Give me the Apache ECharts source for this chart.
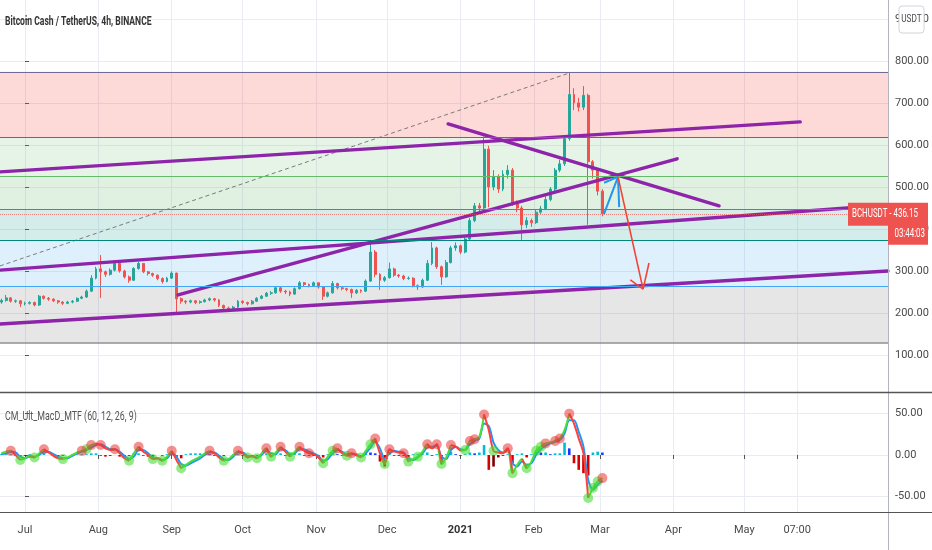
<!DOCTYPE html>
<html><head><meta charset="utf-8">
<script src="https://cdn.jsdelivr.net/npm/echarts@6/dist/echarts.min.js"></script>
<style>html,body{margin:0;padding:0;background:#fff}#c{width:932px;height:550px}</style>
</head><body><div id="c"></div>
<script>
const chartTitle = 'Bitcoin Cash / TetherUS, 4h, BINANCE';
const macdTitle = 'CM_Ult_MacD_MTF (60, 12, 26, 9)';
const symbolName = 'BCHUSDT';
const lastPrice = 436.15;
const countdown = '03:44:03';
const monthDays = [0,31,62,92,123,153,184,215,243,274,304,326.3];
const monthLabels = ['Jul','Aug','Sep','Oct','Nov','Dec','2021','Feb','Mar','Apr','May','07:00'];
const priceTicks = [100,200,300,400,500,600,700,800,900];
const macdTicks = [-50,0,50];
const firstDay = -10, dayStep = 2;
// [open, close, low, high], one candle per 2 days starting Jun 21
const candles = [
[226,230,222,234],[230,236,227,243],[236,228,225,238],[228,229,224,232],[229,222,214,231],
[222,223,218,227],[223,225,220,228],[225,219,216,227],[219,240,217,243],[240,235,232,242],
[235,233,229,238],[233,229,226,235],[229,226,222,231],[226,223,219,228],[223,226,221,229],
[226,228,223,231],[228,235,226,237],[235,238,233,241],[238,252,236,256],[252,283,250,290],
[283,305,280,310],[305,298,236,338],[298,292,286,301],[292,302,289,306],[302,318,299,322],
[318,300,296,320],[300,286,282,303],[286,278,272,289],[278,306,276,309],[306,318,303,322],
[318,298,295,319],[298,294,289,300],[294,290,286,296],[290,282,278,292],[282,275,270,285],
[275,283,273,286],[283,295,281,299],[295,234,202,296],[234,228,222,237],[228,226,221,231],
[226,229,223,232],[229,225,221,231],[225,227,222,230],[227,231,225,234],[231,234,228,237],
[234,231,227,236],[231,218,214,233],[218,212,205,220],[212,210,206,215],[210,214,207,217],
[214,228,212,231],[228,225,221,230],[225,222,218,227],[222,228,220,231],[228,235,226,238],
[235,240,233,243],[240,247,238,250],[247,248,243,252],[248,260,246,264],[260,252,248,262],
[252,250,245,255],[250,245,240,253],[245,258,243,261],[258,272,256,276],[272,268,264,274],
[268,265,261,270],[265,272,263,275],[272,262,258,273],[262,240,231,264],[240,248,237,251],
[248,270,246,276],[270,260,256,272],[260,258,254,263],[258,256,252,260],[256,248,236,258],
[248,254,245,257],[254,252,248,256],[252,276,250,280],[276,345,274,371],[345,292,285,350],
[292,278,255,295],[278,284,274,288],[284,305,282,320],[305,290,286,308],[290,288,284,293],
[288,282,278,291],[282,283,279,287],[283,265,261,285],[265,262,255,268],[262,278,260,282],
[278,318,276,326],[318,355,314,369],[355,310,305,358],[310,286,267,313],[286,320,284,326],
[320,355,318,360],[355,360,348,368],[360,345,340,363],[345,376,342,380],[376,420,372,426],
[420,455,416,462],[455,450,440,462],[450,590,448,620],[590,500,452,598],[500,525,492,540],
[525,495,486,530],[495,530,490,540],[530,540,520,552],[540,462,455,545],[462,450,440,468],
[450,410,374,455],[410,420,402,428],[420,415,405,425],[415,440,412,445],[440,448,436,455],
[448,470,445,478],[470,495,466,500],[495,540,490,545],[540,555,535,565],[555,615,550,622],
[615,720,610,772],[720,700,683,735],[700,690,680,712],[690,718,683,740],[718,560,410,722],
[560,540,520,564],[540,490,480,545],[490,436.15,430,495]
];
const macd = [
2,4,5,0,-6,-4,-1,-3,2,7,3,-1,-4,-5,-3,0,3,5,7,12,
14,12,8,6,7,2,-4,-7,2,10,4,0,-5,-4,-7,-2,5,-6,-16,-12,
-8,-5,-2,2,5,2,-3,-7,-5,0,5,2,-3,-1,-4,2,8,-2,3,10,
4,-2,4,10,5,2,1,-3,-10,-2,5,8,2,-1,2,0,-3,5,13,20,
2,-11,7,4,3,2,-8,-5,-2,4,13,8,13,-11,-3,12,10,5,6,17,
19,22,49,30,5,3,2,8,-22,-12,-5,-16,-8,5,10,14,15,17,20,30,
50,38,20,2,-52,-40,-32,-28
];
const signal = [
1,2,4,3,-2,-4,-2,-2,0,4,4,1,-2,-4,-4,-1,2,4,6,9,
12,13,10,7,7,4,-1,-5,-2,6,6,2,-3,-4,-6,-4,2,-2,-11,-13,
-10,-7,-4,0,3,3,-1,-5,-6,-2,3,3,-1,-2,-3,0,5,2,1,7,
6,1,2,7,7,4,2,-1,-7,-5,2,6,4,1,1,1,-2,2,9,16,
8,-5,2,5,4,3,-4,-6,-3,2,9,10,11,-2,-5,6,10,7,6,13,
17,20,38,35,15,6,3,6,-10,-14,-8,-12,-10,0,7,11,14,16,18,26,
42,42,28,10,-30,-42,-36,-31
];
const hist = [
1,1,1,-1,-2,-1,1,0,1,2,0,-1,-2,-1,0,1,1,1,
1,2,2,-1,-2,-1,0,-2,-2,-1,2,2,-1,-2,-2,0,-1,1,2,-3,
-4,1,2,2,2,2,1,-1,-2,-1,0,1,1,-1,-2,0,-1,1,2,-2,
1,2,-1,-2,1,2,-1,-1,-1,-1,-3,1,2,1,-1,-1,1,-1,-1,4,
3,2,-8,-14,3,-1,-1,-1,-3,1,1,1,3,-1,1,-10,1,4,1,-1,
1,3,2,3,12,-18,-14,-3,-1,1,-10,1,2,-3,1,4,3,3,1,2,
2,15,8,-10,-18,-22,-25,3,4,3
];
const redDots = [2,9,17,19,21,24,29,36,44,50,56,59,63,65,71,74,79,82,85,90,92,95,99,100,102,107,115,117,118,120,127];
const greenDots = [4,7,13,18,27,32,34,38,47,52,54,57,61,68,70,73,76,78,81,86,88,93,98,104,108,111,113,114,124,125,126];
// Fibonacci retracement levels (price)
const fibLevels = [774,619,526,447,374,264,129];
// trend lines [[day, price],[day, price]]
const trendLines = [
 [[-10.6,536],[327.6,655]],
 [[-10.6,302],[364.7,457]],
 [[-10.6,174],[364.7,300]],
 [[64.7,243],[275.6,567]],
 [[178.8,650],[293.3,455]]
];
const dottedLine = [[-10.6,312],[229.9,771]];
const blueArrow = [[[244.7,436],[250.6,524]],[[244.7,510],[250.6,524]],[[250.6,524],[251.1,452]]];
const redArrow = [[[250.6,524],[261.2,257]],[[255.8,279],[261.2,257]],[[261.2,257],[263.7,319]]];

// styles
const fibLineColors = ['#6f6a9a','#e53935','#66bb6a','#43a047','#00897b','#42a5f5','#8f8f8f'];
const fibFills = ['rgba(244,67,54,0.2)','rgba(102,187,106,0.17)','rgba(102,187,106,0.2)','rgba(0,150,136,0.17)','rgba(66,165,245,0.17)','rgba(128,128,128,0.2)'];
const XMIN = -10.57, XMAX = 364.7;
const FONT = 'Roboto, sans-serif';

const dayOf = i => firstDay + i * dayStep;
const candleData = candles.map((c, i) => [dayOf(i), c[0], c[1], c[2], c[3]]);
const macdPts = macd.map((v, i) => [dayOf(i), v]);
const macdUp = macd.map((v, i) => {
  const a = i > 0 && v >= macd[i-1];
  const b = i < macd.length - 1 && macd[i+1] >= v;
  return [dayOf(i), (a || b) ? v : '-'];
});
const macdDown = macd.map((v, i) => {
  const a = i > 0 && v < macd[i-1];
  const b = i < macd.length - 1 && macd[i+1] < v;
  return [dayOf(i), (a || b) ? v : '-'];
});

const chart = echarts.init(document.getElementById('c'), null, {renderer: 'canvas'});

const series = [];
series.push({
  type: 'line', xAxisIndex: 0, yAxisIndex: 0, data: [], silent: true,
  markArea: { silent: true, data: fibFills.map((col, i) => [
    {coord: [XMIN, fibLevels[i]], itemStyle: {color: col}},
    {coord: [XMAX, fibLevels[i+1]]}
  ])},
  markLine: { silent: true, symbol: 'none', label: {show: false}, data: fibLevels.map((lv, i) => ({
    yAxis: lv, lineStyle: {color: fibLineColors[i], width: i === 6 ? 1.6 : 1.1, type: 'solid'}
  }))}
});
series.push({
  type: 'candlestick', xAxisIndex: 0, yAxisIndex: 0, data: candleData,
  encode: {x: 0, y: [1, 2, 3, 4]}, barWidth: 2.4,
  itemStyle: {color: '#26a69a', color0: '#ef5350', borderColor: '#26a69a', borderColor0: '#ef5350', borderWidth: 1},
  markLine: { silent: true, symbol: 'none', label: {show: false},
    data: [{yAxis: lastPrice, lineStyle: {color: '#ef5350', type: 'dotted', width: 1, opacity: 0.7}}]}
});
series.push({
  type: 'line', xAxisIndex: 0, yAxisIndex: 0, data: dottedLine, showSymbol: false, silent: true,
  lineStyle: {color: '#7a7a7a', width: 1, type: [4, 3]}
});
trendLines.forEach(seg => series.push({
  type: 'line', xAxisIndex: 0, yAxisIndex: 0, data: seg, showSymbol: false, silent: true, z: 4,
  lineStyle: {color: '#8e24aa', width: 3.4, cap: 'round'}
}));
blueArrow.forEach(seg => series.push({
  type: 'line', xAxisIndex: 0, yAxisIndex: 0, data: seg, showSymbol: false, silent: true, z: 5,
  lineStyle: {color: '#2196f3', width: 2}
}));
redArrow.forEach(seg => series.push({
  type: 'line', xAxisIndex: 0, yAxisIndex: 0, data: seg, showSymbol: false, silent: true, z: 5,
  lineStyle: {color: '#f44336', width: 1.6}
}));
series.push({
  type: 'bar', xAxisIndex: 1, yAxisIndex: 1, barWidth: 2.6,
  data: hist.map((v, i) => [dayOf(i), v]),
  itemStyle: {color: p => {
    const i = p.dataIndex, v = hist[i], prev = i > 0 ? hist[i-1] : 0;
    if (v >= 0) return v >= prev ? '#00bcd4' : '#1a33ff';
    return v < prev ? '#d50000' : '#800000';
  }}
});
series.push({
  type: 'line', xAxisIndex: 1, yAxisIndex: 1, data: macdPts.map((p, i) => [p[0], signal[i]]),
  showSymbol: false, smooth: 0.3, lineStyle: {color: '#2196f3', width: 2}
});
series.push({
  type: 'line', xAxisIndex: 1, yAxisIndex: 1, data: macdUp, showSymbol: false, smooth: 0.3,
  lineStyle: {color: '#4cdd3c', width: 2}
});
series.push({
  type: 'line', xAxisIndex: 1, yAxisIndex: 1, data: macdDown, showSymbol: false, smooth: 0.3,
  lineStyle: {color: '#ff4040', width: 2}
});
series.push({
  type: 'scatter', xAxisIndex: 1, yAxisIndex: 1, symbolSize: 10, z: 6,
  data: greenDots.map(i => macdPts[i]),
  itemStyle: {color: 'rgba(60,220,40,0.7)'}
});
series.push({
  type: 'scatter', xAxisIndex: 1, yAxisIndex: 1, symbolSize: 10, z: 6,
  data: redDots.map(i => macdPts[i]),
  itemStyle: {color: 'rgba(235,50,50,0.68)'}
});

const gridLine = {show: true, lineStyle: {color: '#e9ecf2', width: 1}};
const axisText = {color: '#4a4a4a', fontSize: 11, fontFamily: FONT};
chart.setOption({
  animation: false,
  backgroundColor: '#ffffff',
  grid: [
    {left: 0, right: 44, top: 0, height: 392},
    {left: 0, right: 44, top: 393, height: 119}
  ],
  xAxis: [
    {gridIndex: 0, type: 'value', min: XMIN, max: XMAX,
     axisLine: {show: false}, axisLabel: {show: false},
     axisTick: {show: false, customValues: monthDays}, splitLine: gridLine},
    {gridIndex: 1, type: 'value', min: XMIN, max: XMAX,
     axisLine: {show: false},
     axisTick: {show: true, customValues: monthDays, length: 4, lineStyle: {color: '#555'}},
     axisLabel: Object.assign({customValues: monthDays, margin: 13,
       formatter: v => { const l = monthLabels[monthDays.indexOf(v)]; return l === '2021' ? '{b|2021}' : l; },
       rich: {b: {fontWeight: 'bold', color: '#333', fontSize: 11, fontFamily: FONT}}}, axisText),
     splitLine: gridLine}
  ],
  yAxis: [
    {gridIndex: 0, type: 'value', position: 'right', min: 12, max: 945,
     axisLine: {show: false},
     axisTick: {show: true, customValues: priceTicks, length: 4, lineStyle: {color: '#555'}},
     axisLabel: Object.assign({customValues: priceTicks, formatter: v => v.toFixed(2), margin: 7}, axisText),
     splitLine: gridLine},
    {gridIndex: 1, type: 'value', position: 'right', min: -69, max: 75,
     axisLine: {show: false},
     axisTick: {show: true, customValues: macdTicks, length: 4, lineStyle: {color: '#555'}},
     axisLabel: Object.assign({customValues: macdTicks, formatter: v => v.toFixed(2), margin: 7}, axisText),
     splitLine: gridLine}
  ],
  series: series
});

const lp = chart.convertToPixel({gridIndex: 0}, [XMAX, lastPrice]);
const ly = lp[1];
chart.setOption({
  graphic: [
    {type: 'line', shape: {x1: 888.5, y1: 0, x2: 888.5, y2: 550}, style: {stroke: '#b2b5be', lineWidth: 1}, z: 50},
    {type: 'line', shape: {x1: 0, y1: 392.5, x2: 932, y2: 392.5}, style: {stroke: '#555', lineWidth: 1.5}, z: 50},
    {type: 'line', shape: {x1: 0, y1: 512.5, x2: 932, y2: 512.5}, style: {stroke: '#555', lineWidth: 1.2}, z: 50},
    {type: 'text', x: 5, y: 22, scaleX: 0.66, z: 60, style: {text: chartTitle, fill: '#333', fontSize: 13, fontWeight: 'bold', fontFamily: FONT, verticalAlign: 'middle'}},
    {type: 'text', x: 5, y: 417, scaleX: 0.68, z: 60, style: {text: macdTitle, fill: '#555', fontSize: 13, fontFamily: FONT, verticalAlign: 'middle'}},
    {type: 'rect', shape: {x: 899, y: 6, width: 25, height: 27, r: 3}, style: {fill: '#fff', stroke: '#d1d4dc', lineWidth: 1}, z: 60},
    {type: 'text', x: 911.5, y: 19.5, scaleX: 0.75, z: 61, style: {text: 'USDT', fill: '#4a4a4a', fontSize: 11, fontFamily: FONT, align: 'center', verticalAlign: 'middle'}},
    {type: 'rect', shape: {x: 848, y: ly - 11, width: 80, height: 23}, style: {fill: '#ef5350'}, z: 60},
    {type: 'rect', shape: {x: 888, y: ly + 11, width: 40, height: 20}, style: {fill: '#ef5350'}, z: 60},
    {type: 'text', x: 852, y: ly + 0.5, scaleX: 0.66, z: 61, style: {text: symbolName + ' - ' + lastPrice.toFixed(2), fill: '#fff', fontSize: 12, fontFamily: FONT, verticalAlign: 'middle'}},
    {type: 'text', x: 925, y: ly + 20.5, scaleX: 0.66, z: 61, style: {text: countdown, fill: '#fff', fontSize: 12, fontFamily: FONT, align: 'right', verticalAlign: 'middle'}}
  ]
});
</script>
</body></html>
